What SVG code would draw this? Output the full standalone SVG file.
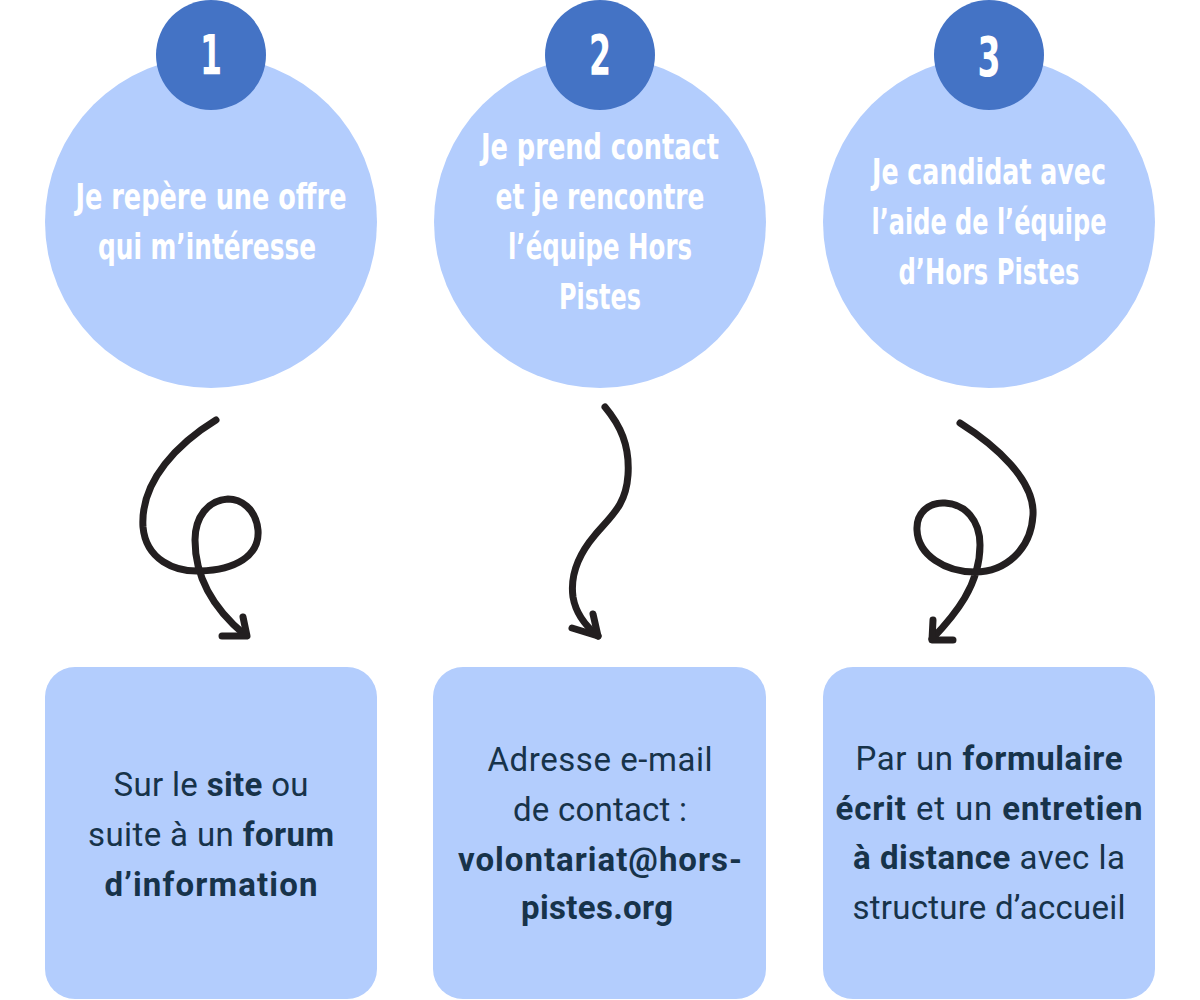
<svg xmlns="http://www.w3.org/2000/svg" width="1200" height="1000" viewBox="0 0 1200 1000">
<style>
.big{fill:#B3CDFD}
.num{fill:#4473C5}
.box{fill:#B3CDFD}
.title{font-family:"DejaVu Sans Condensed","DejaVu Sans",sans-serif;font-weight:bold;font-size:36px;fill:#FFFFFF;text-anchor:middle}
.n{font-family:"DejaVu Sans Condensed","DejaVu Sans",sans-serif;font-weight:bold;font-size:56px;fill:#FFFFFF;text-anchor:middle}
.body{font-family:Roboto,"Liberation Sans",sans-serif;font-size:33px;fill:#17334A;text-anchor:middle}
.b{font-weight:bold}
.arrow{fill:none;stroke:#231F20;stroke-width:7;stroke-linecap:round;stroke-linejoin:round}
</style>
<rect width="1200" height="1000" fill="#FFFFFF"/>

<g id="step1">
<circle class="big" cx="211" cy="222" r="166"/>
<circle class="num" cx="211" cy="55" r="55"/>
<text class="n" x="211" y="74" textLength="22" lengthAdjust="spacingAndGlyphs">1</text>
<text class="title" x="211" y="209" textLength="271" lengthAdjust="spacingAndGlyphs">Je repère une offre</text>
<text class="title" x="207" y="259" textLength="218" lengthAdjust="spacingAndGlyphs">qui m’intéresse</text>
</g>

<g id="step2">
<circle class="big" cx="600" cy="222" r="166"/>
<circle class="num" cx="600" cy="55" r="55"/>
<text class="n" x="600" y="74" textLength="22" lengthAdjust="spacingAndGlyphs">2</text>
<text class="title" x="600" y="159" textLength="238" lengthAdjust="spacingAndGlyphs">Je prend contact</text>
<text class="title" x="600" y="209" textLength="209" lengthAdjust="spacingAndGlyphs">et je rencontre</text>
<text class="title" x="600" y="259" textLength="184" lengthAdjust="spacingAndGlyphs">l’équipe Hors</text>
<text class="title" x="600" y="309" textLength="82" lengthAdjust="spacingAndGlyphs">Pistes</text>
</g>

<g id="step3">
<circle class="big" cx="989" cy="222" r="166"/>
<circle class="num" cx="989" cy="55" r="55"/>
<text class="n" x="989" y="76" textLength="23" lengthAdjust="spacingAndGlyphs">3</text>
<text class="title" x="989" y="184" textLength="234" lengthAdjust="spacingAndGlyphs">Je candidat avec</text>
<text class="title" x="989" y="234" textLength="235" lengthAdjust="spacingAndGlyphs">l’aide de l’équipe</text>
<text class="title" x="989" y="284" textLength="181" lengthAdjust="spacingAndGlyphs">d’Hors Pistes</text>
</g>

<g id="box1">
<rect class="box" x="45" y="667" width="332" height="332" rx="30"/>
<text class="body" x="211" y="796" textLength="195" lengthAdjust="spacing">Sur le <tspan class="b">site</tspan> ou</text>
<text class="body" x="211" y="846" textLength="246" lengthAdjust="spacing">suite à un <tspan class="b">forum</tspan></text>
<text class="body b" x="211" y="896" textLength="213" lengthAdjust="spacing">d’information</text>
</g>

<g id="box2">
<rect class="box" x="433" y="667" width="333" height="332" rx="30"/>
<text class="body" x="600" y="771" textLength="225" lengthAdjust="spacing">Adresse e-mail</text>
<text class="body" x="600" y="821" textLength="174" lengthAdjust="spacing">de contact :</text>
<text class="body b" x="600" y="871" textLength="284" lengthAdjust="spacing">volontariat@hors-</text>
<text class="body b" x="597" y="919" textLength="152" lengthAdjust="spacing">pistes.org</text>
</g>

<g id="box3">
<rect class="box" x="823" y="667" width="332" height="332" rx="30"/>
<text class="body" x="989" y="770" textLength="267" lengthAdjust="spacing">Par un <tspan class="b">formulaire</tspan></text>
<text class="body" x="989" y="820" textLength="307" lengthAdjust="spacing"><tspan class="b">écrit</tspan> et un <tspan class="b">entretien</tspan></text>
<text class="body" x="989" y="869" textLength="272" lengthAdjust="spacing"><tspan class="b">à distance</tspan> avec la</text>
<text class="body" x="989" y="919" textLength="273" lengthAdjust="spacing">structure d’accueil</text>
</g>

<g id="connectors">
<path class="arrow" d="M216,420 C180,442 140,480 143,527 C146,560 175,572 200,571 C235,570 260,556 258,530 C256,508 240,499 228,499 C208,500 195,517 195,540 C195,580 215,610 245,635"/>
<path class="arrow" d="M243,617 L247,636 L222,636"/>
<path class="arrow" d="M605,407 C620,425 630,445 628,475 C626,505 612,515 595,535 C578,555 570,575 573,597 C576,615 588,628 598,636"/>
<path class="arrow" d="M593,614 L598,636 L572,628"/>
<path class="arrow" d="M960,423 C995,445 1035,480 1033,515 C1031,550 1005,572 975,572 C945,572 918,555 917,530 C916,512 930,502 945,503 C965,504 980,520 980,545 C980,585 955,615 932,639"/>
<path class="arrow" d="M933,620 L932,640 L953,640"/>
</g>
</svg>
